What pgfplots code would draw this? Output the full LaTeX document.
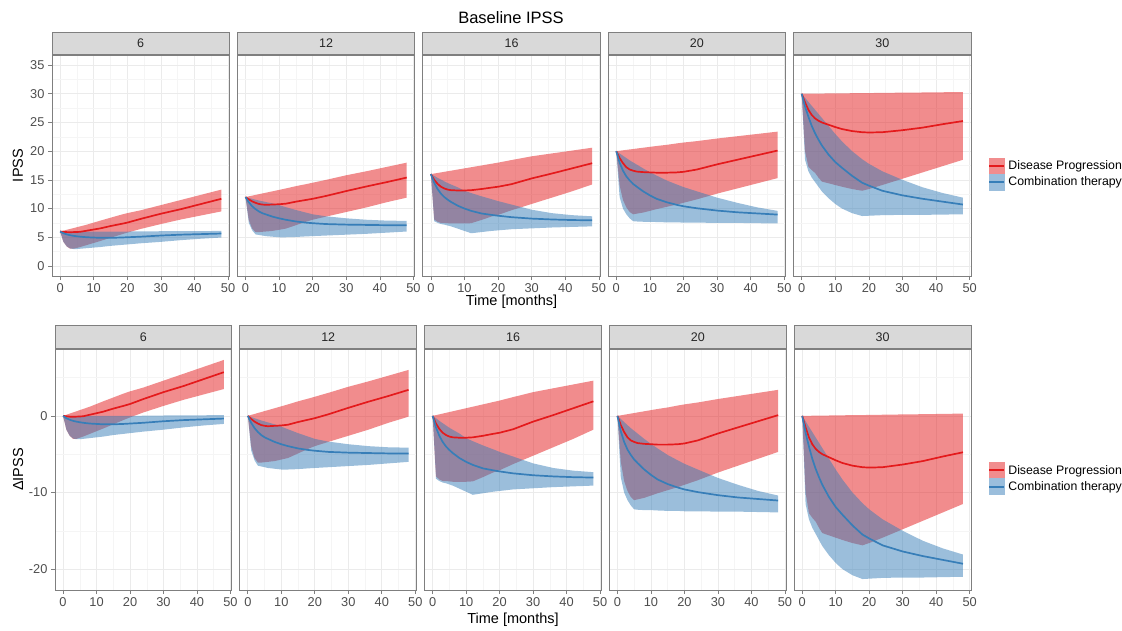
\documentclass[border=0pt]{standalone}
\usepackage{pgfplots}
\pgfplotsset{compat=1.18}
\usepackage{pgfplotstable}
\usepgfplotslibrary{fillbetween}
\usepackage{fontspec}
\setmainfont{Liberation Sans}

\definecolor{cred}{HTML}{E41A1C}
\definecolor{cblue}{HTML}{377EB8}
\definecolor{stripfill}{HTML}{D9D9D9}
\definecolor{bordercol}{HTML}{7F7F7F}
\definecolor{gridmaj}{HTML}{EBEBEB}
\definecolor{gridmin}{HTML}{F5F5F5}
\definecolor{ticklab}{HTML}{4D4D4D}

% change from baseline: t, red mean/lower/upper, blue mean/lower/upper
\pgfplotstableread{
t rm rl ru bm bl bu
0 0 0 0 0 0 0
1 -0.05 -1.8 0.15 -0.3 -1.8 0
2 -0.1 -2.6 0.3 -0.5 -2.6 0
3 -0.12 -3.0 0.45 -0.65 -2.95 0
4 -0.1 -3.0 0.6 -0.75 -3.05 0
5 -0.08 -2.85 0.75 -0.83 -3.05 0
6 -0.05 -2.7 0.9 -0.9 -3.0 0
8 0.15 -2.35 1.2 -1.0 -2.9 0
10 0.35 -2.0 1.55 -1.05 -2.8 0
12 0.55 -1.65 1.9 -1.1 -2.7 0
15 0.95 -1.1 2.4 -1.1 -2.5 0
18 1.3 -0.55 2.9 -1.05 -2.35 0
20 1.55 -0.2 3.2 -1.0 -2.25 0
24 2.2 0.45 3.7 -0.9 -2.05 0.02
30 3.1 1.3 4.6 -0.7 -1.8 0.05
36 3.9 2.1 5.5 -0.55 -1.5 0.07
42 4.8 2.8 6.4 -0.45 -1.25 0.08
48 5.7 3.5 7.3 -0.35 -1.05 0.1
}\Bsix
\pgfplotstableread{
t rm rl ru bm bl bu
0 0 0 0 0 0 0
1 -0.4 -4.0 0.13 -0.9 -4.5 -0.15
2 -0.75 -5.5 0.25 -1.6 -5.8 -0.3
3 -1.0 -6.1 0.38 -2.1 -6.5 -0.45
4 -1.2 -6.1 0.5 -2.5 -6.6 -0.6
5 -1.3 -6.05 0.63 -2.8 -6.7 -0.72
6 -1.35 -6.0 0.75 -3.0 -6.8 -0.85
8 -1.3 -5.9 1.0 -3.4 -6.9 -1.1
10 -1.25 -5.7 1.25 -3.7 -7.0 -1.4
12 -1.15 -5.5 1.5 -3.95 -7.0 -1.75
15 -0.8 -4.9 1.9 -4.25 -6.95 -2.25
18 -0.5 -4.3 2.25 -4.45 -6.85 -2.7
20 -0.3 -3.95 2.5 -4.55 -6.8 -3.0
24 0.2 -3.4 3.0 -4.7 -6.7 -3.35
30 1.05 -2.6 3.8 -4.8 -6.55 -3.7
36 1.85 -1.8 4.5 -4.85 -6.4 -3.95
42 2.6 -0.9 5.25 -4.9 -6.2 -4.1
48 3.4 -0.1 6.0 -4.9 -6.0 -4.15
}\Btwelve
\pgfplotstableread{
t rm rl ru bm bl bu
0 0 0 0 0 0 0
1 -1.0 -7.9 0.1 -1.5 -8.2 -0.3
2 -1.7 -8.3 0.2 -2.6 -8.5 -0.65
3 -2.2 -8.5 0.3 -3.4 -8.7 -0.95
4 -2.5 -8.5 0.4 -4.0 -8.8 -1.25
5 -2.7 -8.55 0.5 -4.45 -8.95 -1.55
6 -2.8 -8.6 0.6 -4.85 -9.1 -1.8
8 -2.85 -8.6 0.8 -5.5 -9.5 -2.3
10 -2.85 -8.6 1.0 -6.0 -9.9 -2.9
12 -2.8 -8.55 1.2 -6.4 -10.3 -3.3
15 -2.6 -8.0 1.5 -6.85 -10.1 -3.85
18 -2.35 -7.4 1.8 -7.1 -9.9 -4.35
20 -2.2 -7.1 2.0 -7.25 -9.8 -4.7
24 -1.75 -6.3 2.45 -7.5 -9.6 -5.3
30 -0.75 -5.2 3.1 -7.75 -9.45 -6.2
36 0.1 -4.1 3.6 -7.9 -9.3 -6.8
42 1.0 -3.0 4.1 -8.0 -9.2 -7.15
48 1.9 -1.8 4.6 -8.05 -9.1 -7.35
}\Bsixteen
\pgfplotstableread{
t rm rl ru bm bl bu
0 0 0 0 0 0 0
1 -1.2 -6.0 0.07 -2.0 -8.0 -0.4
2 -2.1 -8.5 0.15 -3.4 -10.0 -0.8
3 -2.8 -9.8 0.22 -4.4 -11.0 -1.2
4 -3.2 -10.6 0.3 -5.1 -11.7 -1.6
5 -3.4 -11.0 0.37 -5.7 -12.2 -1.95
6 -3.55 -10.9 0.45 -6.15 -12.25 -2.3
8 -3.65 -10.7 0.6 -7.0 -12.3 -3.0
10 -3.7 -10.4 0.75 -7.7 -12.3 -3.65
12 -3.75 -10.1 0.9 -8.3 -12.35 -4.25
15 -3.75 -9.7 1.1 -8.9 -12.4 -5.1
18 -3.7 -9.3 1.35 -9.35 -12.4 -5.8
20 -3.6 -9.0 1.5 -9.6 -12.45 -6.25
24 -3.2 -8.4 1.75 -9.95 -12.45 -7.0
30 -2.3 -7.4 2.2 -10.35 -12.5 -8.1
36 -1.5 -6.5 2.6 -10.65 -12.5 -9.0
42 -0.7 -5.6 3.0 -10.85 -12.55 -9.8
48 0.1 -4.7 3.4 -11.05 -12.6 -10.4
}\Btwenty
\pgfplotstableread{
t rm rl ru bm bl bu
0 0 0 0 0 0 0
1 -1.5 -10.0 0.01 -2.2 -11.5 -0.7
2 -2.8 -12.7 0.01 -4.0 -13.5 -1.4
3 -3.7 -13.3 0.02 -5.6 -14.6 -2.1
4 -4.3 -13.8 0.03 -6.9 -15.4 -2.8
5 -4.7 -14.6 0.03 -8.0 -16.2 -3.5
6 -5.0 -15.3 0.04 -9.0 -17.0 -4.2
8 -5.4 -15.6 0.05 -10.6 -18.2 -5.6
10 -5.8 -15.9 0.06 -11.9 -19.2 -7.0
12 -6.15 -16.2 0.08 -12.9 -20.0 -8.3
15 -6.5 -16.6 0.09 -14.3 -20.8 -10.0
18 -6.7 -16.9 0.11 -15.5 -21.3 -11.4
20 -6.75 -16.6 0.12 -16.0 -21.25 -12.2
24 -6.7 -15.9 0.15 -16.9 -21.15 -13.5
30 -6.35 -14.8 0.19 -17.7 -21.1 -15.0
36 -5.9 -13.7 0.22 -18.3 -21.1 -16.3
42 -5.3 -12.6 0.26 -18.8 -21.05 -17.3
48 -4.75 -11.5 0.3 -19.3 -21.0 -18.1
}\Bthirty

\pgfplotsset{
  panel/.style={
    scale only axis,
    xmin=-2.4, xmax=50.4,
    xtick={0,10,20,30,40,50}, minor xtick={5,15,25,35,45},
    xmajorgrids, xminorgrids, ymajorgrids, yminorgrids,
    major grid style={draw=gridmaj, line width=0.7pt},
    minor grid style={draw=gridmin, line width=0.45pt},
    axis line style={draw=bordercol, line width=0.8pt},
    tick align=outside, tick pos=left,
    major tick length=4pt, minor tick length=0pt,
    tick style={draw=bordercol, line width=0.7pt},
    tick label style={font=\fontsize{12.8}{13}\selectfont, text=ticklab},
    /pgf/number format/assume math mode=true,
    title style={at={(axis description cs:0.5,1)}, anchor=south, yshift=-6pt, fill=stripfill,
      draw=bordercol, line width=0.8pt, inner sep=0pt,
      font=\fontsize{12.5}{13}\selectfont, text=black!85},
    label style={font=\fontsize{14.5}{15}\selectfont, text=black},
  },
  toprow/.style={panel, width=177.4pt, height=221pt, ymin=-1.75, ymax=36.75,
    ytick={0,5,10,15,20,25,30,35}, minor ytick={2.5,7.5,12.5,17.5,22.5,27.5,32.5},
    title style={minimum width=177.4pt, minimum height=22pt}},
  botrow/.style={panel, width=176.8pt, height=241pt, ymin=-22.73, ymax=8.73,
    ytick={-20,-10,0}, yticklabels={-20,-10,0}, minor ytick={-15,-5,5},
    title style={minimum width=176.8pt, minimum height=23pt}},
  noy/.style={yticklabels={}, ytick style={draw=none}},
  mylegend/.style={
    legend style={at={(axis description cs:#1)}, anchor=west, draw=none, fill=none,
      inner sep=0pt, row sep=0pt, column sep=3pt,
      font=\fontsize{12.3}{12.5}\selectfont, nodes={inner sep=0.5pt}},
    legend cell align=left},
}

\newcommand{\bands}[2]{%
  \addplot[name path=ru, draw=none, forget plot] table[x=t, y expr=\thisrow{ru}+#2] {#1};
  \addplot[name path=rl, draw=none, forget plot] table[x=t, y expr=\thisrow{rl}+#2] {#1};
  \addplot[fill=cred, fill opacity=0.5, draw=none, forget plot] fill between[of=ru and rl];
  \addplot[name path=bu, draw=none, forget plot] table[x=t, y expr=\thisrow{bu}+#2] {#1};
  \addplot[name path=bl, draw=none, forget plot] table[x=t, y expr=\thisrow{bl}+#2] {#1};
  \addplot[fill=cblue, fill opacity=0.5, draw=none, forget plot] fill between[of=bu and bl];
  \addplot[cred, line width=1.7pt, forget plot] table[x=t, y expr=\thisrow{rm}+#2] {#1};
  \addplot[cblue, line width=1.7pt, forget plot] table[x=t, y expr=\thisrow{bm}+#2] {#1};
}
\newcommand{\legendentries}{%
  \addlegendimage{legend image code/.code={\fill[cred!50] (0pt,-8pt) rectangle (15pt,8pt);
      \draw[cred, line width=1.7pt] (0pt,0pt) -- (15pt,0pt);}}
  \addlegendentry{Disease Progression}
  \addlegendimage{legend image code/.code={\fill[cblue!50] (0pt,-8pt) rectangle (15pt,8pt);
      \draw[cblue, line width=1.7pt] (0pt,0pt) -- (15pt,0pt);}}
  \addlegendentry{Combination therapy}
}

\begin{document}
\begin{tikzpicture}
\node[font=\fontsize{16.5}{17}\selectfont] at (511pt,-18pt) {Baseline IPSS};

% ---------- top row: IPSS ----------
\begin{axis}[toprow, at={(52pt,-276pt)}, anchor=south west, title={6},
  ylabel={IPSS}, ylabel style={at={(axis description cs:-0.1917,0.5)}, anchor=center}]
\bands{\Bsix}{6}
\end{axis}
\begin{axis}[toprow, noy, at={(237.4pt,-276pt)}, anchor=south west, title={12}]
\bands{\Btwelve}{12}
\end{axis}
\begin{axis}[toprow, noy, at={(422.8pt,-276pt)}, anchor=south west, title={16},
  xlabel={Time [months]}, xlabel style={at={(axis description cs:0.5,-0.1176)}, anchor=center}]
\bands{\Bsixteen}{16}
\end{axis}
\begin{axis}[toprow, noy, at={(608.2pt,-276pt)}, anchor=south west, title={20}]
\bands{\Btwenty}{20}
\end{axis}
\begin{axis}[toprow, noy, at={(793.6pt,-276pt)}, anchor=south west, title={30},
  mylegend={1.0958,0.4615}]
\bands{\Bthirty}{30}
\legendentries
\end{axis}

% ---------- bottom row: change in IPSS ----------
\begin{axis}[botrow, at={(55pt,-590pt)}, anchor=south west, title={6},
  ylabel={ΔIPSS}, ylabel style={at={(axis description cs:-0.209,0.5)}, anchor=center}]
\bands{\Bsix}{0}
\end{axis}
\begin{axis}[botrow, noy, at={(239.8pt,-590pt)}, anchor=south west, title={12}]
\bands{\Btwelve}{0}
\end{axis}
\begin{axis}[botrow, noy, at={(424.6pt,-590pt)}, anchor=south west, title={16},
  xlabel={Time [months]}, xlabel style={at={(axis description cs:0.5,-0.1245)}, anchor=center}]
\bands{\Bsixteen}{0}
\end{axis}
\begin{axis}[botrow, noy, at={(609.4pt,-590pt)}, anchor=south west, title={20}]
\bands{\Btwenty}{0}
\end{axis}
\begin{axis}[botrow, noy, at={(794.2pt,-590pt)}, anchor=south west, title={30},
  mylegend={1.096,0.4627}]
\bands{\Bthirty}{0}
\legendentries
\end{axis}

\pgfresetboundingbox
\path[use as bounding box] (0pt,0pt) rectangle (1122pt,-630pt);
\end{tikzpicture}
\end{document}
